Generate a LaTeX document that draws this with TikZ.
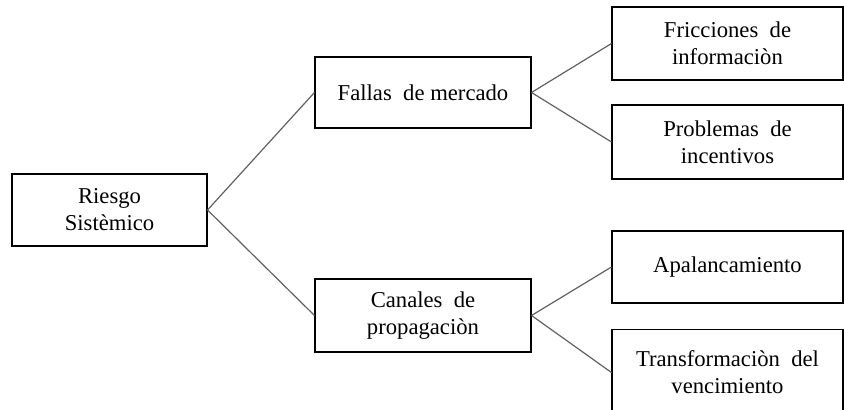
\documentclass[tikz,border=0pt]{standalone}
\usepackage{fontspec}
\setmainfont{Liberation Serif}
\begin{document}
\begin{tikzpicture}[x=0.75pt,y=-0.75pt,
  box/.style={draw=black,line width=0.8pt,rectangle,inner sep=2pt,align=center,
    font=\fontsize{17}{20.25}\selectfont},
  conn/.style={draw=black!62,line width=0.9pt}]
\useasboundingbox (0,0) rectangle (844,410);
\clip (0,0) rectangle (844,410);
\node[box,minimum width=146.25pt,minimum height=54pt] (riesgo) at (109.5,210) {Riesgo\\Sistèmico};
\node[box,minimum width=162pt,minimum height=53.25pt] (fallas) at (423,92.5) {Fallas\ \ de mercado};
\node[box,minimum width=162pt,minimum height=54.75pt] (canales) at (423,315.5) {Canales\ \ de\\propagaciòn};
\node[box,minimum width=173.25pt,minimum height=54.75pt] (fric) at (727.5,43.5) {Fricciones\ \ de\\informaciòn};
\node[box,minimum width=173.25pt,minimum height=55.5pt] (prob) at (727.5,142) {Problemas\ \ de\\incentivos};
\node[box,minimum width=173.25pt,minimum height=54pt] (apal) at (727.5,267) {Apalancamiento};
\node[box,minimum width=173.25pt,minimum height=64pt] (trans) at (727.5,372.5) {Transformaciòn\ \ del\\vencimiento};
\draw[conn] (riesgo.east) -- (fallas.west);
\draw[conn] (riesgo.east) -- (canales.west);
\draw[conn] (fallas.east) -- (fric.west);
\draw[conn] (fallas.east) -- (prob.west);
\draw[conn] (canales.east) -- (apal.west);
\draw[conn] (canales.east) -- (trans.west);
\end{tikzpicture}
\end{document}
